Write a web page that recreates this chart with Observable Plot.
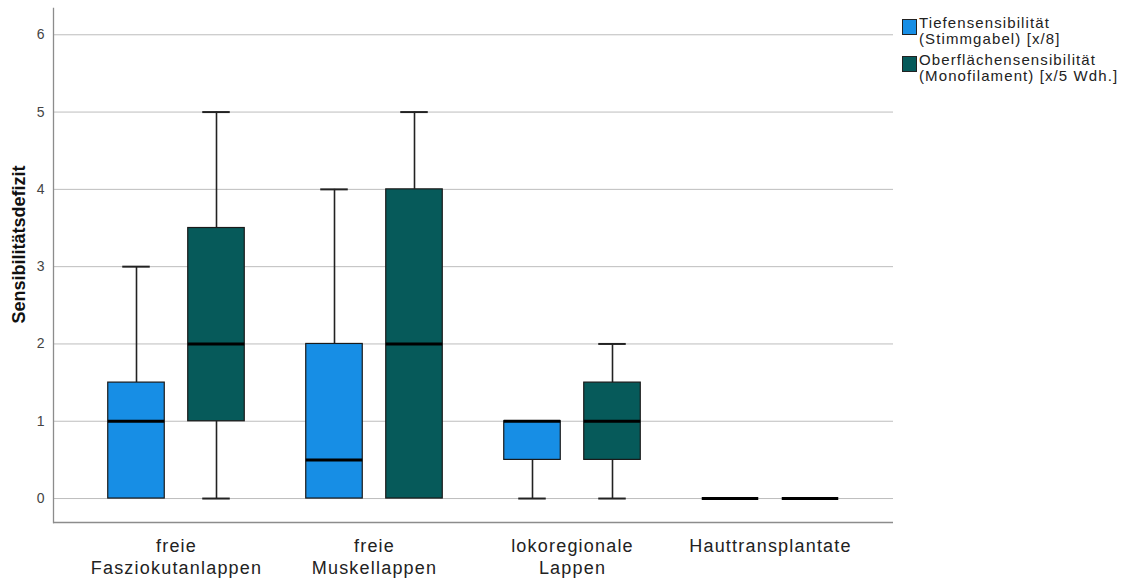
<!DOCTYPE html>
<html>
<head>
<meta charset="utf-8">
<script src="https://cdn.jsdelivr.net/npm/d3@7"></script>
<script src="https://cdn.jsdelivr.net/npm/@observablehq/plot@0.6"></script>
<style>
  html, body { margin: 0; padding: 0; background: #fff; }
  #wrap { position: relative; width: 1128px; height: 581px; font-family: "Liberation Sans", Arial, sans-serif; }
  #wrap svg [aria-label="x-axis tick label"] text { letter-spacing: 1.2px; }
  #legend { position: absolute; left: 902px; top: 15px; font-size: 15px; color: #222; letter-spacing: 1.1px; }
  .item { display: flex; align-items: flex-start; margin-bottom: 5px; line-height: 16px; }
  .sw { width: 13px; height: 14px; border: 1px solid #222; margin-right: 2px; margin-top: 4px; flex: none; }
</style>
</head>
<body>
<div id="wrap"><div id="legend"></div></div>
<script>
// ---- data ----
const categories = ["freie\nFasziokutanlappen", "freie\nMuskellappen", "lokoregionale\nLappen", "Hauttransplantate"];
const seriesNames = ["Tiefensensibilität\n(Stimmgabel) [x/8]", "Oberflächensensibilität\n(Monofilament) [x/5 Wdh.]"];
const seriesColors = ["#178ee5", "#065a5a"];

const tiefenMin    = [0, 0, 0, 0];
const tiefenQ1     = [0, 0, 0.5, 0];
const tiefenMedian = [1, 0.5, 1, 0];
const tiefenQ3     = [1.5, 2, 1, 0];
const tiefenMax    = [3, 4, 1, 0];

const oberMin    = [0, 0, 0, 0];
const oberQ1     = [1, 0, 0.5, 0];
const oberMedian = [2, 2, 1, 0];
const oberQ3     = [3.5, 4, 1.5, 0];
const oberMax    = [5, 5, 2, 0];

const yTicks = [0, 1, 2, 3, 4, 5, 6];
const yLabel = "Sensibilitätsdefizit";

// ---- table ----
const stats = [
  [tiefenMin, tiefenQ1, tiefenMedian, tiefenQ3, tiefenMax],
  [oberMin, oberQ1, oberMedian, oberQ3, oberMax]
];
const rows = [];
stats.forEach((s, si) => categories.forEach((cat, ci) => rows.push({
  cat, series: si, min: s[0][ci], q1: s[1][ci], med: s[2][ci], q3: s[3][ci], max: s[4][ci]
})));

// ---- layout ----
const W = 1128, H = 581;
const mL = 53, mR = 235, mT = 8, mB = 59;
const padOuter = 0.116;
const step = (W - mL - mR) / (categories.length + 2 * padOuter);
const boxW = 57, capW = 28, offset = 40;
const boxInset = (step - boxW) / 2, capInset = (step - capW) / 2;

const marks = [
  Plot.gridY(yTicks, {stroke: "#bdbdbd", strokeOpacity: 1}),
  Plot.axisY(yTicks, {tickSize: 0, tickPadding: 9, fontSize: 14, fill: "#444", label: null, tickFormat: d3.format("d")}),
  Plot.axisX({tickSize: 0, tickPadding: 14, fontSize: 18, lineHeight: 1.22, fill: "#222", label: null}),
  Plot.text([yLabel], {frameAnchor: "left", textAnchor: "middle", rotate: -90, dx: -34, dy: -21, fontSize: 18, fontWeight: "bold", fill: "#111"})
];
seriesNames.forEach((name, si) => {
  const d = rows.filter(r => r.series === si);
  const dx = si === 0 ? -offset : offset;
  marks.push(
    Plot.ruleX(d.filter(r => r.min < r.q1), {x: "cat", y1: "min", y2: "q1", dx, stroke: "#222", strokeWidth: 1.6}),
    Plot.ruleX(d.filter(r => r.max > r.q3), {x: "cat", y1: "q3", y2: "max", dx, stroke: "#222", strokeWidth: 1.6}),
    Plot.tickY(d.filter(r => r.min < r.q1), {x: "cat", y: "min", dx, stroke: "#222", strokeWidth: 2, insetLeft: capInset, insetRight: capInset}),
    Plot.tickY(d.filter(r => r.max > r.q3), {x: "cat", y: "max", dx, stroke: "#222", strokeWidth: 2, insetLeft: capInset, insetRight: capInset}),
    Plot.barY(d, {x: "cat", y1: "q1", y2: "q3", dx, fill: seriesColors[si], stroke: "#1a1a1a", strokeWidth: 1.2, insetLeft: boxInset, insetRight: boxInset}),
    Plot.tickY(d, {x: "cat", y: "med", dx, stroke: "#000", strokeWidth: 3, insetLeft: boxInset, insetRight: boxInset})
  );
});
marks.push(
  Plot.ruleY([-0.31], {stroke: "#8c8c8c", strokeWidth: 1.3}),
  Plot.frame({anchor: "left", stroke: "#8c8c8c", strokeWidth: 1.3})
);

const chart = Plot.plot({
  width: W, height: H,
  marginLeft: mL, marginRight: mR, marginTop: mT, marginBottom: mB,
  style: {fontFamily: "Liberation Sans, Arial, sans-serif", background: "#fff"},
  x: {domain: categories, type: "band", paddingInner: 0, paddingOuter: padOuter},
  y: {domain: [-0.31, 6.34]},
  marks
});
document.getElementById("wrap").prepend(chart);

const legend = document.getElementById("legend");
seriesNames.forEach((name, i) => {
  const item = document.createElement("div");
  item.className = "item";
  const sw = document.createElement("div");
  sw.className = "sw";
  sw.style.background = seriesColors[i];
  const t = document.createElement("div");
  t.innerHTML = name.split("\n").join("<br>");
  item.append(sw, t);
  legend.append(item);
});
</script>
</body>
</html>
